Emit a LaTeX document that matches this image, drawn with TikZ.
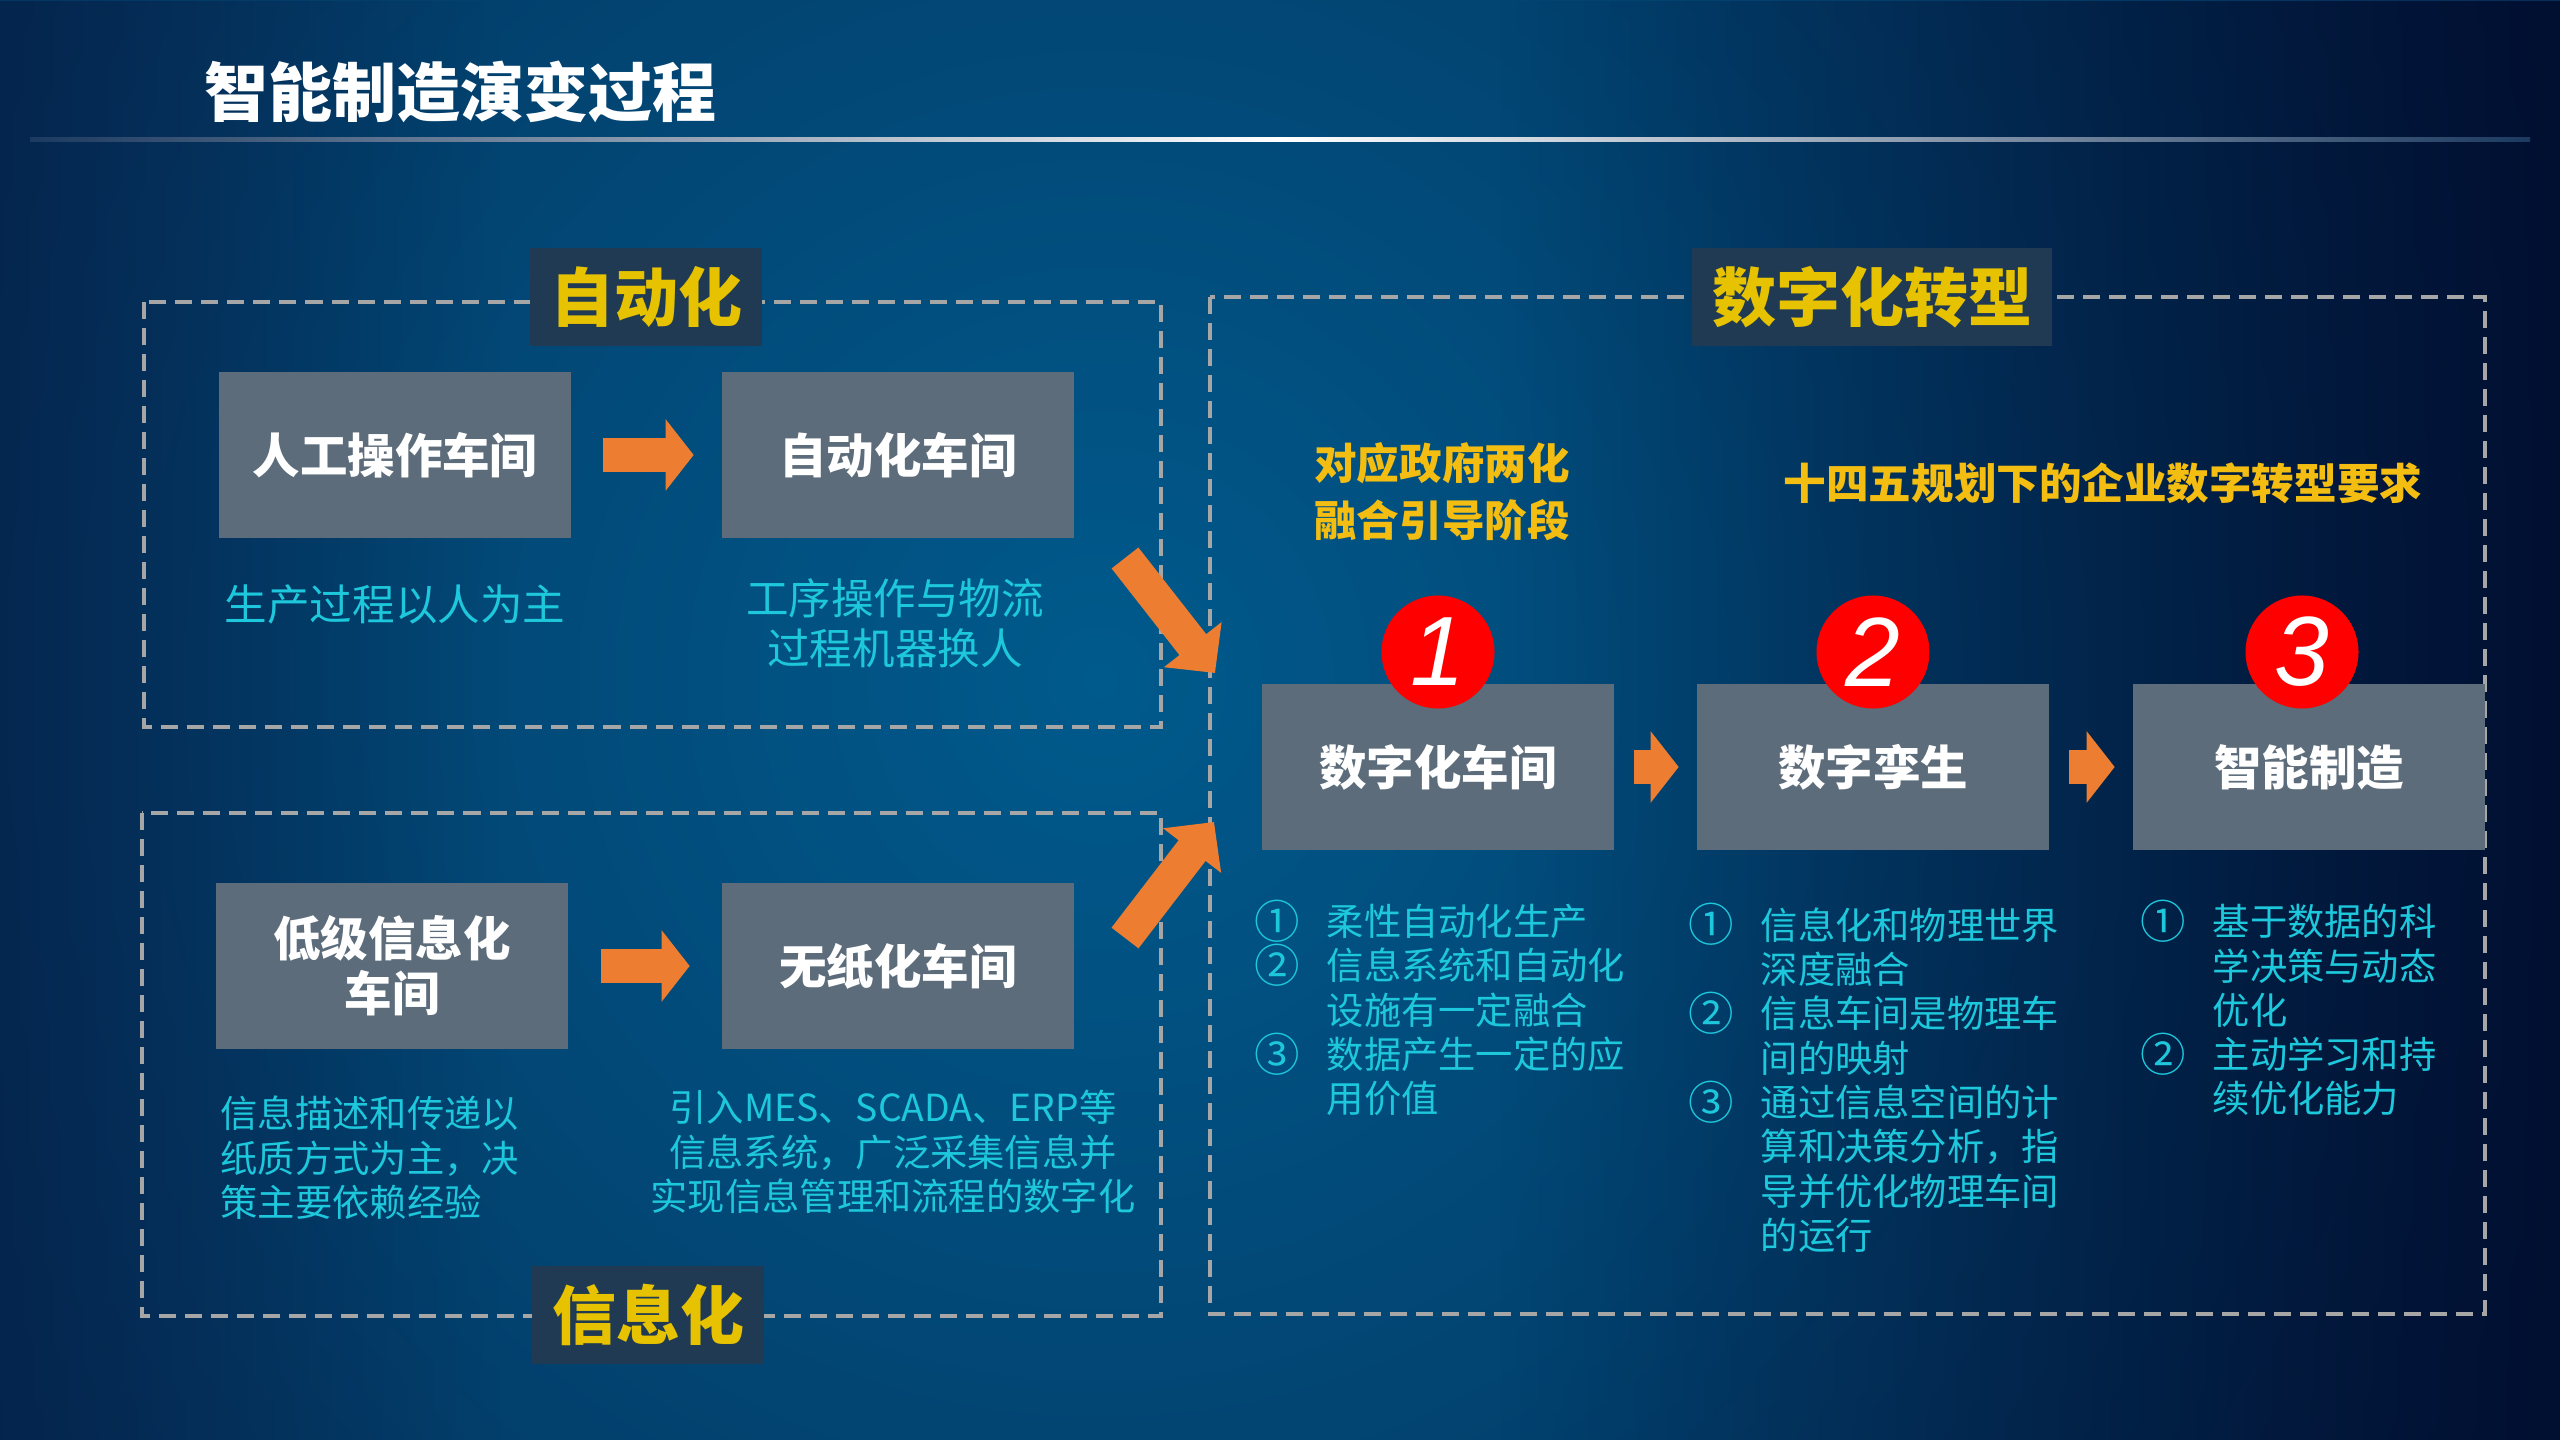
\documentclass[tikz,border=0pt]{standalone}
\usepackage{fontspec}
\setmainfont{Noto Sans CJK SC}
\newfontfamily\numfont{Liberation Sans}
\usepackage{tikz}
\usetikzlibrary{arrows.meta,fadings}

\definecolor{bgdark}{HTML}{061A40}
\definecolor{bgdeep}{HTML}{010A2A}
\definecolor{bglight}{HTML}{005A8C}
\definecolor{lineedge}{HTML}{1C3A60}
\definecolor{dashgray}{HTML}{A6A6A6}
\definecolor{stagebg}{HTML}{1F3A52}
\definecolor{stageyel}{HTML}{E6C200}
\definecolor{wsgray}{HTML}{5C6C7A}
\definecolor{cyantxt}{HTML}{1EC8DC}
\definecolor{goldtxt}{HTML}{F3BD12}
\definecolor{badgered}{HTML}{FF0000}
\definecolor{flowor}{HTML}{ED7D31}

\newcommand\itm[1]{\makebox[0.72cm][l]{\raisebox{-0.07em}{\scalebox{1.22}{#1}}}}
\newcommand\ind{\hspace*{0.72cm}}

\begin{document}
\begin{tikzpicture}[
    x=0.01cm, y=-0.01cm,
    every node/.style={inner sep=0pt},
    frame/.style={draw=dashgray, line width=0.045cm, dash pattern=on 0.17cm off 0.09cm},
    stage/.style={fill=stagebg, text=stageyel, inner xsep=0.2cm, minimum height=0.97cm,
      font=\bfseries\fontsize{18.2}{22}\selectfont},
    ws/.style={fill=wsgray, text=white, minimum width=3.51cm, minimum height=1.65cm,
      align=center, font=\bfseries\fontsize{13.5}{15.7}\selectfont},
    desc/.style={text=cyantxt, align=center, font=\fontsize{12.1}{14.2}\selectfont},
    note/.style={text=cyantxt, font=\fontsize{10.6}{12.6}\selectfont},
    gold/.style={text=goldtxt, align=center, font=\bfseries\fontsize{12.1}{16.2}\selectfont},
    badge/.style={circle, fill=badgered, minimum size=1.13cm, text=white,
      font=\numfont\itshape\fontsize{28}{28}\selectfont},
    flow/.style={draw=flowor, line width=0.33cm, -{Triangle[length=0.28cm,width=0.7cm]}},
    jump/.style={draw=flowor, line width=0.34cm, -{Triangle[length=0.36cm,width=0.71cm]}},
  ]
  \useasboundingbox (0,0) rectangle (2560,1440);

  % -- backdrop --
  \fill[bgdark] (0,0) rectangle (2560,1440);
  \begin{scope}
    \clip (0,0) rectangle (2560,1440);
    \shade[inner color=bglight, outer color=bgdark] (1100,680) circle (2300);
    \fill[bgdeep, opacity=.85, path fading=west] (1500,0) rectangle (2560,1440);
    \fill[bgdark, opacity=.6, path fading=east] (0,0) rectangle (500,1440);
  \end{scope}
  \shade[left color=lineedge, right color=lineedge, middle color=white]
    (30,138) rectangle (2530,142);
  \node[anchor=west, text=white, font=\bfseries\fontsize{18.2}{22}\selectfont]
    (ttl) at (204,92) {智能制造演变过程};

  % -- the three stages --
  \draw[frame] (144,302) rectangle (1161,727);
  \draw[frame] (142,813) rectangle (1161,1316);
  \draw[frame] (1210,297) rectangle (2485,1314);
  \node[stage] (auto) at (646,297) {自动化};
  \node[stage] (info) at (648,1315) {信息化};
  \node[stage] (digi) at (1872,297) {数字化转型};

  % -- workshops --
  \node[ws] (manual) at (395,455) {人工操作车间};
  \node[ws] (autows) at (898,455) {自动化车间};
  \node[ws] (lowinfo) at (392,966) {低级信息化\\车间};
  \node[ws] (paper) at (898,966) {无纸化车间};
  \node[ws] (dws) at (1438,767) {数字化车间};
  \node[ws] (twin) at (1873,767) {数字孪生};
  \node[ws] (smart) at (2309,767) {智能制造};

  \draw[flow, shorten <=0.32cm, shorten >=0.28cm] (manual) -- (autows);
  \draw[flow, shorten <=0.33cm, shorten >=0.32cm] (lowinfo) -- (paper);
  \draw[flow, shorten <=0.2cm, shorten >=0.18cm] (dws) -- (twin);
  \draw[flow, shorten <=0.2cm, shorten >=0.18cm] (twin) -- (smart);

  \coordinate (upfrom) at (1125,558);
  \coordinate (upto) at (1215,673);
  \coordinate (lowfrom) at (1125,938);
  \coordinate (lowto) at (1214,822);
  \draw[jump] (upfrom) -- (upto);
  \draw[jump] (lowfrom) -- (lowto);

  \node[badge] (n1) at (1438,652) {1};
  \node[badge] (n2) at (1873,652) {2};
  \node[badge] (n3) at (2302,652) {3};

  % -- what each one means --
  \node[desc] (d1) at (395,604) {生产过程以人为主};
  \node[desc] (d2) at (895,623) {工序操作与物流\\过程机器换人};
  \node[note, align=left, anchor=west] (d3) at (220,1158)
    {信息描述和传递以\\纸质方式为主，决\\策主要依赖经验};
  \node[note, align=center] (d4) at (893,1152)
    {引入MES、SCADA、ERP等\\信息系统，广泛采集信息并\\实现信息管理和流程的数字化};

  \node[gold] (g1) at (1442,492) {对应政府两化\\融合引导阶段};
  \node[gold] (g2) at (2103,483) {十四五规划下的企业数字转型要求};

  \node[note, align=left, anchor=west] (l1) at (1254,1008)
    {\itm{①}柔性自动化生产\\\itm{②}信息系统和自动化\\\ind 设施有一定融合\\
     \itm{③}数据产生一定的应\\\ind 用价值};
  \node[note, align=left, anchor=west] (l2) at (1688,1078)
    {\itm{①}信息化和物理世界\\\ind 深度融合\\\itm{②}信息车间是物理车\\\ind 间的映射\\
     \itm{③}通过信息空间的计\\\ind 算和决策分析，指\\\ind 导并优化物理车间\\\ind 的运行};
  \node[note, align=left, anchor=west] (l3) at (2140,1008)
    {\itm{①}基于数据的科\\\ind 学决策与动态\\\ind 优化\\\itm{②}主动学习和持\\\ind 续优化能力};
\end{tikzpicture}
\end{document}
